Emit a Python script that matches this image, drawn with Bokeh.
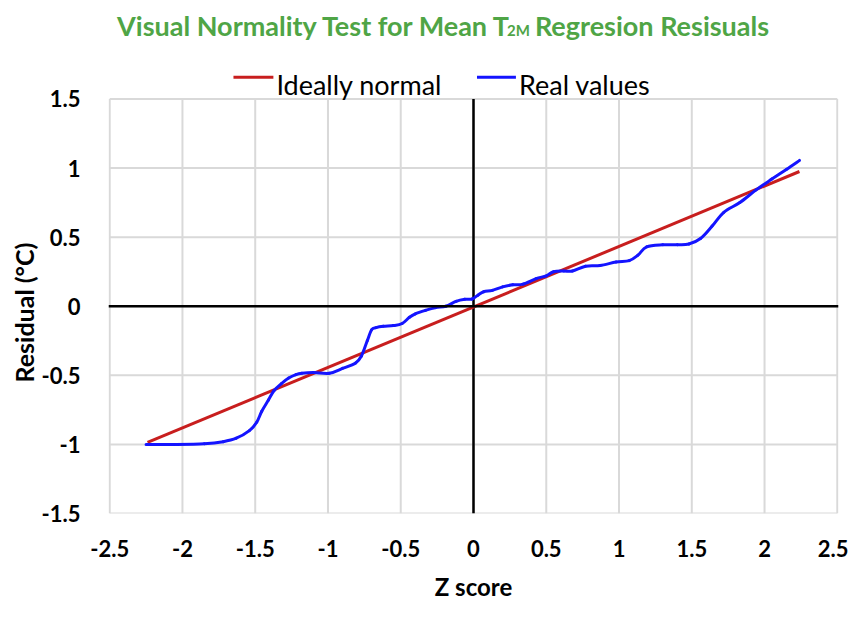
from bokeh.plotting import figure
from bokeh.models import Span, FixedTicker, Range1d, Title
from bokeh.core.properties import value
from bokeh.embed import file_html
from bokeh.resources import INLINE

# ---- data ----
ideal_z = [-2.24, 2.24]
ideal_r = [-0.985, 0.975]

real_z = [-2.25, -2.05, -1.85, -1.72, -1.63, -1.54, -1.49, -1.455, -1.41, -1.37, -1.32,
          -1.27, -1.22, -1.18, -1.10, -0.99, -0.90, -0.81, -0.77, -0.73, -0.70, -0.67,
          -0.62, -0.55, -0.49, -0.44, -0.40, -0.33, -0.26, -0.19, -0.12, -0.06, -0.01,
          0.03, 0.07, 0.13, 0.20, 0.27, 0.34, 0.43, 0.50, 0.55, 0.62, 0.68, 0.77,
          0.87, 0.98, 1.07, 1.13, 1.19, 1.30, 1.40, 1.48, 1.56, 1.64, 1.72, 1.83,
          1.94, 2.05, 2.15, 2.24]
real_r = [-1.0, -1.0, -0.995, -0.98, -0.955, -0.9, -0.84, -0.76, -0.68, -0.61, -0.56,
          -0.52, -0.495, -0.485, -0.48, -0.485, -0.45, -0.41, -0.36, -0.25, -0.17, -0.155,
          -0.145, -0.14, -0.125, -0.08, -0.055, -0.03, -0.01, 0.0, 0.035, 0.05, 0.052,
          0.08, 0.105, 0.115, 0.14, 0.155, 0.16, 0.2, 0.22, 0.25, 0.255, 0.255, 0.29,
          0.295, 0.32, 0.33, 0.37, 0.43, 0.445, 0.445, 0.45, 0.49, 0.58, 0.68, 0.75,
          0.84, 0.92, 0.99, 1.055]

x_ticks = [-2.5, -2, -1.5, -1, -0.5, 0, 0.5, 1, 1.5, 2, 2.5]
x_tick_labels = ["-2.5", "-2", "-1.5", "-1", "-0.5", "0", "0.5", "1", "1.5", "2", "2.5"]
y_ticks = [-1.5, -1, -0.5, 0, 0.5, 1, 1.5]
y_tick_labels = ["-1.5", "-1", "-0.5", "0", "0.5", "1", "1.5"]

title_main = "Visual Normality Test for Mean T"
title_sub = "2M"
title_rest = "Regresion Resisuals"
series_names = ["Ideally normal", "Real values"]
x_label = "Z score"
y_label = "Residual (°C)"

FONT = "Lato"
GREEN = "#4FA546"
RED = "#C81E1E"
BLUE = "#1414FF"
GRID = "#d9d9d9"

# ---- geometry (page pixels of the plotting area in the reference) ----
FL, FR, FT, FB = 116, 845, 108, 529          # grid box: left, right, top(1.5), bottom(-1.5)
XMIN, XMAX = x_ticks[0], x_ticks[-1]
YMIN, YMAX = y_ticks[0], y_ticks[-1]
XS = (XMAX - XMIN) / (FR - FL)                # data units per pixel
YS = (YMAX - YMIN) / (FB - FT)


def px(xp):  # page x -> data x
    return XMIN + (xp - FL) * XS


def py(yp):  # page y -> data y
    return YMAX - (yp - FT) * YS


EPS = 1.2 * XS
p = figure(width=848, height=603, output_backend="svg", toolbar_location=None,
           x_range=Range1d(XMIN - EPS, XMAX + EPS), y_range=Range1d(YMIN, py(8)),
           min_border_left=108, min_border_right=10, min_border_top=0,
           min_border_bottom=82)
p.outline_line_color = None
p.grid.visible = False

for ax in (p.xaxis[0], p.yaxis[0]):
    ax.axis_line_color = None
    ax.major_tick_line_color = None
    ax.minor_tick_line_color = None
    ax.major_label_text_font = FONT
    ax.major_label_text_font_style = "bold"
    ax.major_label_text_font_size = "22px"
    ax.major_label_text_color = "black"
    ax.axis_label_text_font = FONT
    ax.axis_label_text_font_style = "bold"
    ax.axis_label_text_font_size = "24px"
    ax.axis_label_text_color = "black"

p.xaxis.ticker = FixedTicker(ticks=x_ticks)
p.xaxis.major_label_overrides = dict(zip(x_ticks, x_tick_labels))
p.yaxis.ticker = FixedTicker(ticks=y_ticks)
p.yaxis.major_label_overrides = dict(zip(y_ticks, y_tick_labels))
p.yaxis.bounds = (YMIN, YMAX)
p.xaxis.axis_label = x_label
p.xaxis.major_label_standoff = 20
p.xaxis.axis_label_standoff = 12
p.yaxis.major_label_standoff = 22

# y label as a side title, placed along the tick box (anchored at its bottom end)
p.add_layout(Title(text=y_label, align="left", offset=131,
                   standoff=0, text_font=FONT, text_font_style="bold",
                   text_font_size="25px", text_color="black"), "left")

# grid (limited to the tick box)
nx, ny = len(x_ticks), len(y_ticks)
p.segment(x0=x_ticks, y0=[YMIN] * nx, x1=x_ticks, y1=[YMAX] * nx,
          line_color=GRID, line_width=2)
p.segment(x0=[XMIN] * ny, y0=y_ticks, x1=[XMAX] * ny, y1=y_ticks,
          line_color=GRID, line_width=2)

# zero lines
p.add_layout(Span(location=0, dimension="width", line_color="black", line_width=2.5))
p.segment(x0=[0], y0=[YMIN], x1=[0], y1=[YMAX], line_color="black", line_width=2.5)

p.line(ideal_z, ideal_r, line_color=RED, line_width=3)

# smooth (Excel-style) rendering of the real values: cubic Bezier segments
# through the read points (Catmull-Rom tangents)
n = len(real_z)
x0, y0, x1, y1, cx0, cy0, cx1, cy1 = ([] for _ in range(8))
for i in range(n - 1):
    xa, ya = real_z[i], real_r[i]
    xb, yb = real_z[i + 1], real_r[i + 1]
    xp_, yp_ = (real_z[i - 1], real_r[i - 1]) if i > 0 else (xa, ya)
    xn, yn = (real_z[i + 2], real_r[i + 2]) if i + 2 < n else (xb, yb)
    x0.append(xa); y0.append(ya); x1.append(xb); y1.append(yb)
    cx0.append(xa + (xb - xp_) / 6.0); cy0.append(ya + (yb - yp_) / 6.0)
    cx1.append(xb - (xn - xa) / 6.0); cy1.append(yb - (yn - ya) / 6.0)
p.bezier(x0=x0, y0=y0, x1=x1, y1=y1, cx0=cx0, cy0=cy0, cx1=cx1, cy1=cy1,
         line_color=BLUE, line_width=3, line_cap="round")

# ---- title (with subscript) ----
TS = "27px"
p.text(x=[px(519)], y=[py(33)], text=[title_main], text_align="right",
       text_baseline="alphabetic", text_font=value(FONT), text_font_style="bold",
       text_font_size=TS, text_color=GREEN)
p.text(x=[px(514)], y=[py(38)], text=[title_sub], text_align="left",
       text_baseline="alphabetic", text_font=value(FONT), text_font_style="bold",
       text_font_size="15px", text_color=GREEN)
p.text(x=[px(542)], y=[py(33)], text=[title_rest], text_align="left",
       text_baseline="alphabetic", text_font=value(FONT), text_font_style="bold",
       text_font_size=TS, text_color=GREEN)

# ---- legend ----
LS = "27px"
p.segment(x0=[px(240)], y0=[py(86)], x1=[px(280)], y1=[py(86)], line_color=RED, line_width=3)
p.text(x=[px(283)], y=[py(93)], text=[series_names[0]], text_align="left",
       text_baseline="alphabetic", text_font=value(FONT), text_font_size=LS,
       text_color="black")
p.segment(x0=[px(484)], y0=[py(86)], x1=[px(523)], y1=[py(86)], line_color=BLUE, line_width=3)
p.text(x=[px(526)], y=[py(93)], text=[series_names[1]], text_align="left",
       text_baseline="alphabetic", text_font=value(FONT), text_font_size=LS,
       text_color="black")

open("out.html", "w").write(file_html(p, INLINE))
